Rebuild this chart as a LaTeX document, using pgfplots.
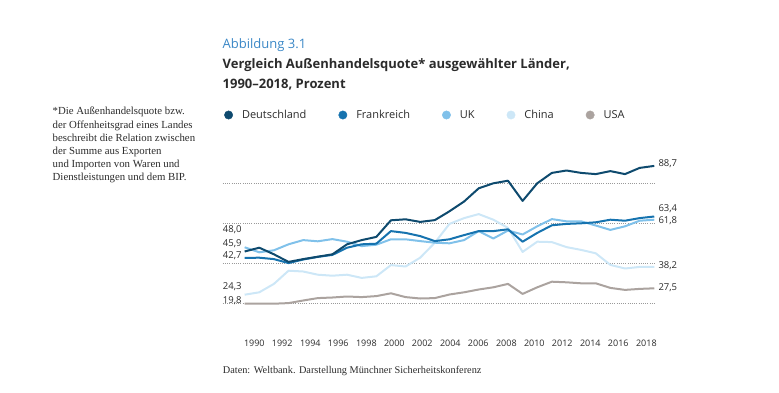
\documentclass[border=0pt]{standalone}
\usepackage{fontspec}
\setmainfont{Open Sans}
\newfontfamily\serif{Liberation Serif}
\usepackage{pgfplots}
\pgfplotsset{compat=1.18}
\definecolor{cD}{HTML}{0E4A6E}
\definecolor{cF}{HTML}{1673AF}
\definecolor{cU}{HTML}{80C1EA}
\definecolor{cC}{HTML}{CDE7F7}
\definecolor{cA}{HTML}{ABA39F}
\definecolor{cT}{HTML}{3A87C6}
\definecolor{txt}{HTML}{2B2B2B}
\definecolor{gridc}{HTML}{9A9A9A}
\begin{document}
\begin{tikzpicture}
\path[use as bounding box] (0,0) rectangle (779pt,392pt);
\begin{axis}[
  at={(222.7pt,82pt)}, anchor=south west,
  scale only axis, width=432.3pt, height=150pt,
  xmin=1988.5, xmax=2018.05, ymin=16.65, ymax=91.65,
  clip=false,
  axis line style={draw=none},
  major tick length=0pt,
  ytick={20,40,60,80}, yticklabels={},
  ymajorgrids,
  grid style={gridc, line width=0.7pt, dash pattern=on 0.7pt off 1.5pt},
  xtick={1990.66,1992.57,1994.49,1996.40,1998.32,2000.23,2002.14,2004.06,2005.97,2007.89,2009.80,2011.71,2013.63,2015.54,2017.46},
  xticklabels={1990,1992,1994,1996,1998,2000,2002,2004,2006,2008,2010,2012,2014,2016,2018},
  xticklabel style={font=\fontsize{9}{10}\selectfont, text=txt, yshift=-26pt},
  /pgf/number format/assume math mode=true,
  legend columns=5,
  legend image code/.code={\fill[#1] (0pt,0pt) circle (4.2pt);},
  legend style={at={(axis description cs:0.003,1.30)}, anchor=west, draw=none, fill=none,
    inner sep=0pt, font=\fontsize{11}{13}\selectfont, text=txt,
    /tikz/every odd column/.append style={column sep=6pt},
    /tikz/every even column/.append style={column sep=29pt},
    nodes={inner sep=3pt}},
]
\addlegendimage{color=cD}\addlegendentry{Deutschland}
\addlegendimage{color=cF}\addlegendentry{Frankreich}
\addlegendimage{color=cU}\addlegendentry{UK}
\addlegendimage{color=cC}\addlegendentry{China}
\addlegendimage{color=cA}\addlegendentry{USA}
% USA
\addplot[forget plot, color=cA, line width=2pt, line join=round] coordinates {
(1990,19.8)(1991,19.8)(1992,19.8)(1993,20.1)(1994,21.4)(1995,22.6)(1996,22.9)(1997,23.4)(1998,23.1)(1999,23.6)
(2000,25.0)(2001,23.1)(2002,22.4)(2003,22.6)(2004,24.4)(2005,25.5)(2006,26.9)(2007,28.0)(2008,29.7)(2009,24.7)
(2010,28.0)(2011,30.8)(2012,30.5)(2013,30.0)(2014,30.0)(2015,27.7)(2016,26.7)(2017,27.2)(2018,27.5)};
% China
\addplot[forget plot, color=cC, line width=2pt, line join=round] coordinates {
(1990,24.3)(1991,25.5)(1992,29.7)(1993,36.3)(1994,35.9)(1995,34.3)(1996,33.8)(1997,34.3)(1998,32.7)(1999,33.5)
(2000,39.1)(2001,38.4)(2002,42.8)(2003,50.3)(2004,59.7)(2005,62.6)(2006,64.6)(2007,61.8)(2008,57.7)(2009,45.7)
(2010,50.8)(2011,50.6)(2012,48.1)(2013,46.7)(2014,45.0)(2015,39.2)(2016,37.4)(2017,38.2)(2018,38.2)};
% UK
\addplot[forget plot, color=cU, line width=2pt, line join=round] coordinates {
(1990,48.0)(1991,45.5)(1992,46.5)(1993,49.5)(1994,51.6)(1995,51.0)(1996,52.1)(1997,50.8)(1998,48.6)(1999,49.3)
(2000,52.0)(2001,52.0)(2002,51.1)(2003,50.3)(2004,50.0)(2005,51.6)(2006,56.1)(2007,52.4)(2008,56.4)(2009,54.4)
(2010,58.5)(2011,62.1)(2012,61.0)(2013,61.0)(2014,58.9)(2015,56.7)(2016,58.5)(2017,61.3)(2018,61.8)};
% Frankreich
\addplot[forget plot, color=cF, line width=2pt, line join=round] coordinates {
(1990,42.7)(1991,42.8)(1992,42.1)(1993,40.1)(1994,41.9)(1995,43.2)(1996,44.2)(1997,47.8)(1998,49.5)(1999,49.8)
(2000,56.1)(2001,55.2)(2002,53.6)(2003,51.1)(2004,52.0)(2005,54.1)(2006,56.1)(2007,56.1)(2008,57.0)(2009,50.8)
(2010,55.2)(2011,59.0)(2012,59.7)(2013,60.0)(2014,60.5)(2015,61.8)(2016,61.3)(2017,62.6)(2018,63.4)};
% Deutschland
\addplot[forget plot, color=cD, line width=2pt, line join=round] coordinates {
(1990,45.9)(1991,47.8)(1992,44.5)(1993,40.7)(1994,42.1)(1995,43.3)(1996,44.5)(1997,49.5)(1998,51.6)(1999,53.2)
(2000,61.5)(2001,62.0)(2002,60.7)(2003,61.6)(2004,66.0)(2005,70.9)(2006,77.5)(2007,80.0)(2008,81.3)(2009,71.2)
(2010,80.0)(2011,85.2)(2012,86.4)(2013,85.2)(2014,84.6)(2015,86.1)(2016,84.6)(2017,87.7)(2018,88.7)};
\end{axis}
% value labels
\begin{scope}[every node/.style={font=\fontsize{9.5}{10}\selectfont, text=txt, inner sep=0pt}]
\node[anchor=west] at (222.7pt,162pt) {48,0};
\node[anchor=west] at (222.7pt,148.7pt) {45,9};
\node[anchor=west] at (222.7pt,136.7pt) {42,7};
\node[anchor=west] at (222.7pt,105.3pt) {24,3};
\node[anchor=west] at (222.7pt,91pt) {19,8};
\node[anchor=west] at (658.3pt,228pt) {88,7};
\node[anchor=west] at (658.3pt,183.7pt) {63,4};
\node[anchor=west] at (658.3pt,171pt) {61,8};
\node[anchor=west] at (658.3pt,126.3pt) {38,2};
\node[anchor=west] at (658.3pt,104.3pt) {27,5};
\end{scope}
% titles
\node[anchor=west, inner sep=0pt, text=cT, font=\fontsize{13}{15}\selectfont] at (222.5pt,347pt) {Abbildung 3.1};
\node[anchor=west, inner sep=0pt, text=txt, font=\bfseries\fontsize{13}{15}\selectfont] at (222.5pt,327pt) {Vergleich Außenhandelsquote* ausgewählter Länder,};
\node[anchor=west, inner sep=0pt, text=txt, font=\bfseries\fontsize{13}{15}\selectfont] at (222.5pt,307.7pt) {1990–2018, Prozent};
% footnote
\node[anchor=north west, inner sep=0pt, text=txt, align=left, font=\serif\fontsize{10.8}{13.2}\selectfont] at (52.5pt,285pt)
{*Die Außenhandelsquote bzw.\\der Offenheitsgrad eines Landes\\beschreibt die Relation zwischen\\der Summe aus Exporten\\und Importen von Waren und\\Dienstleistungen und dem BIP.};
% source
\node[anchor=west, inner sep=0pt, text=txt, font=\serif\fontsize{10.3}{11}\selectfont] at (222.7pt,21.3pt) {Daten: Weltbank. Darstellung Münchner Sicherheitskonferenz};
\end{tikzpicture}
\end{document}
